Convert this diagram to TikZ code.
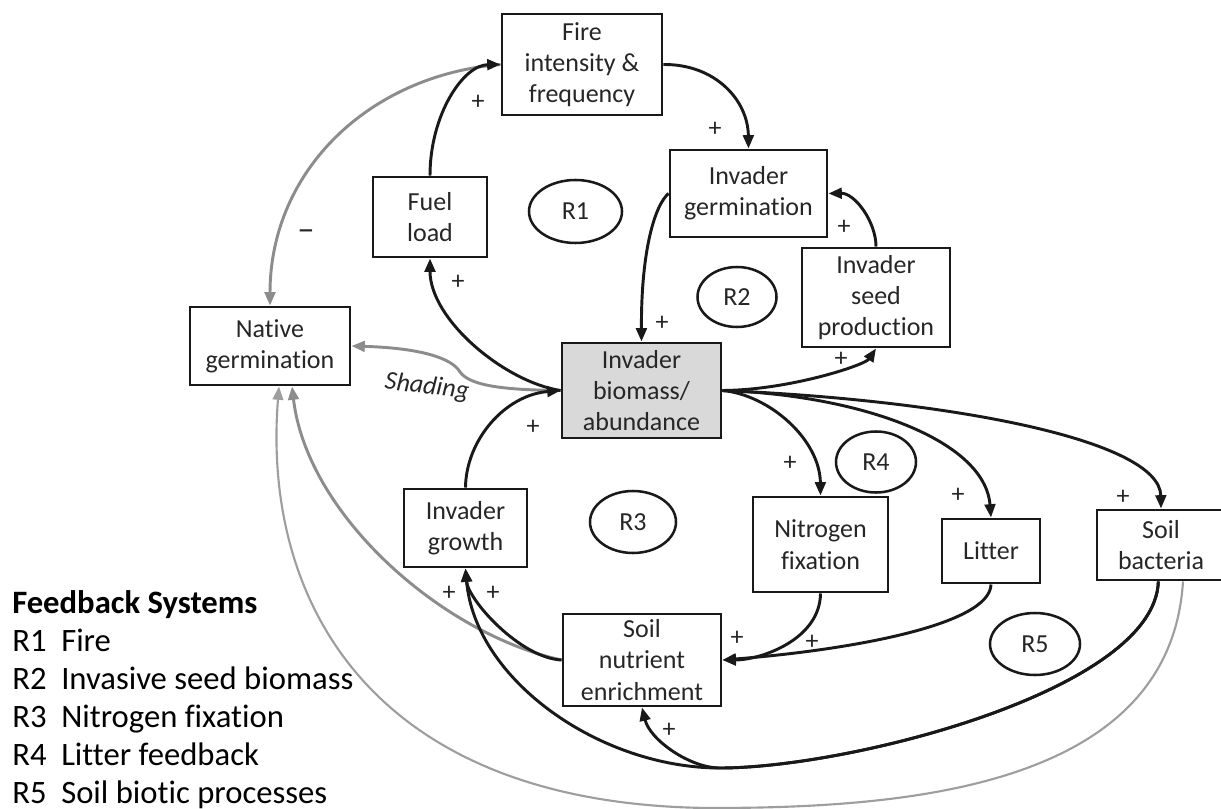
\documentclass[tikz,border=0pt]{standalone}
\usepackage{fontspec}
\setmainfont{Carlito}[Ligatures={TeX,NoCommon}]
\usetikzlibrary{arrows.meta,shapes.geometric}

\begin{document}
\begin{tikzpicture}[x=0.75pt,y=0.75pt,
    box/.style={draw=black!90, line width=2.2pt, align=center, inner sep=0pt, text=black!85, font=\fontsize{19.5}{23.5}\selectfont},
    loopmark/.style={draw=black!90, ellipse, line width=1.9pt, inner sep=0pt, text=black!85, font=\fontsize{19.5}{23.5}\selectfont},
    link/.style={line width=2.2pt, draw=black!90, -{Triangle[length=10pt,width=8pt]}},
    dimlink/.style={line width=2.2pt, draw=black!45, -{Triangle[length=10pt,width=8pt]}},
    sign/.style={text=black!85, font=\fontsize{19.5}{23.5}\selectfont, inner sep=0pt},
    legend/.style={anchor=base west, inner sep=0pt, text=black, font=\fontsize{24.5}{28.5}\selectfont}]
    \useasboundingbox (0,0) rectangle (1221,-809);

    \node[box, minimum width=120pt, minimum height=75.75pt] (fire) at (582,-64.5) {Fire\\intensity \&\\frequency};
    \node[box, minimum width=85.5pt, minimum height=60pt] (fuel) at (430,-217) {Fuel\\load};
    \node[box, minimum width=117.75pt, minimum height=65.25pt] (igerm) at (748.5,-193.5) {Invader\\germination};
    \node[box, minimum width=111pt, minimum height=74.25pt] (seed) at (876,-297.5) {Invader\\seed\\production};
    \node[box, minimum width=120pt, minimum height=58.5pt] (native) at (270,-346) {Native\\germination};
    \node[box, fill=black!15, minimum width=119.25pt, minimum height=71.25pt] (biomass) at (641.5,-390.5) {Invader\\biomass/\\abundance};
    \node[box, minimum width=92.25pt, minimum height=58.5pt] (growth) at (465.5,-528) {Invader\\growth};
    \node[box, minimum width=101.25pt, minimum height=71.25pt] (nitro) at (820.5,-544.5) {Nitrogen\\fixation};
    \node[box, minimum width=73.5pt, minimum height=48pt] (litter) at (991,-551) {Litter};
    \node[box, minimum width=96pt, minimum height=52.5pt] (bacteria) at (1161,-545) {Soil\\bacteria};
    \node[box, minimum width=118.5pt, minimum height=69pt] (soil) at (642,-660) {Soil\\nutrient\\enrichment};

    \node[loopmark, minimum width=69.75pt, minimum height=47.25pt] (r1) at (575.5,-211.5) {R1};
    \node[loopmark, minimum width=59.25pt, minimum height=45pt] (r2) at (737,-297) {R2};
    \node[loopmark, minimum width=64.5pt, minimum height=46.5pt] (r3) at (633,-522) {R3};
    \node[loopmark, minimum width=60pt, minimum height=45.75pt] (r4) at (876,-462) {R4};
    \node[loopmark, minimum width=67.5pt, minimum height=46.5pt] (r5) at (1035,-644) {R5};

    \draw[dimlink] (fire.west) .. controls (370,-75) and (270,-170) .. (native.north);
    \draw[dimlink] (biomass.west) .. controls (505,-390) and (470,-386) .. (460,-372)
        .. controls (452,-358) and (420,-348) .. (native.east);
    \draw[dimlink] (soil.west) .. controls (442,-634) and (307,-515) .. ([xshift=16.5pt]native.south);
    \draw[dimlink, line width=1.6pt, draw=black!38] ([xshift=16.5pt]bacteria.south) .. controls (1170,-790) and (900,-808) .. (710,-808)
        .. controls (370,-805) and (262,-600) .. ([xshift=6.75pt]native.south);

    \draw[link] (fuel.north) .. controls (430,-115) and (463,-65) .. (fire.west);
    \draw[link] (fire.east) .. controls (715,-64) and (748,-100) .. (igerm.north);
    \draw[link] (igerm.west) .. controls (655,-205) and (641,-250) .. (biomass.north);
    \draw[link] (seed.north) .. controls (876,-222) and (855,-193) .. (igerm.east);
    \draw[link] (biomass.east) .. controls (790,-390) and (865,-365) .. (seed.south);
    \draw[link] (biomass.west) .. controls (505,-382) and (430,-320) .. (fuel.south);
    \draw[link] (growth.north) .. controls (466,-440) and (505,-395) .. (biomass.west);
    \draw[link] (biomass.east) .. controls (770,-395) and (820,-440) .. (nitro.north);
    \draw[link] (biomass.east) .. controls (860,-395) and (985,-440) .. (litter.north);
    \draw[link] (biomass.east) .. controls (950,-400) and (1160,-440) .. (bacteria.north);
    \draw[link] (nitro.south) .. controls (820,-640) and (760,-660) .. (soil.east);
    \draw[link] (litter.south) .. controls (990,-625) and (850,-650) .. (soil.east);
    \draw[link] (soil.west) .. controls (520,-658) and (468,-600) .. (growth.south);
    \draw[link] ([xshift=-2pt]bacteria.south) .. controls (1155,-690) and (850,-768) .. (720,-768)
        .. controls (600,-768) and (475,-680) .. (growth.south);
    \draw[link] ([xshift=-2pt]bacteria.south) .. controls (1155,-690) and (850,-768) .. (720,-768)
        .. controls (690,-768) and (650,-740) .. (soil.south);

    \node[sign] (s1) at (478,-102) {+};
    \node[sign] (s2) at (715,-129) {+};
    \node[sign] (s3) at (458,-282) {+};
    \node[sign] (s4) at (662,-323) {+};
    \node[sign] (s5) at (844,-227) {+};
    \node[sign] (s6) at (841,-359) {+};
    \node[sign] (s7) at (533,-427) {+};
    \node[sign] (s8) at (790,-463) {+};
    \node[sign] (s9) at (958,-495) {+};
    \node[sign] (s10) at (1123,-497) {+};
    \node[sign] (s11) at (449,-593) {+};
    \node[sign] (s12) at (493,-593) {+};
    \node[sign] (s13) at (737,-638) {+};
    \node[sign] (s14) at (812,-642) {+};
    \node[sign] (s15) at (669,-730) {+};
    \node[sign, font=\fontsize{26}{30}\selectfont] (minus) at (306,-235) {\textendash};
    \node[sign, rotate=-7] (shade) at (427,-387) {\itshape Shading};

    \node[legend] (lhead) at (12,-613) {\bfseries Feedback Systems};
    \node[legend] (l1) at (12,-651) {R1};
    \node[legend] (l1t) at (61,-651) {Fire};
    \node[legend] (l2) at (12,-689) {R2};
    \node[legend] (l2t) at (61,-689) {Invasive seed biomass};
    \node[legend] (l3) at (12,-727) {R3};
    \node[legend] (l3t) at (61,-727) {Nitrogen fixation};
    \node[legend] (l4) at (12,-765) {R4};
    \node[legend] (l4t) at (61,-765) {Litter feedback};
    \node[legend] (l5) at (12,-803) {R5};
    \node[legend] (l5t) at (61,-803) {Soil biotic processes};

\end{tikzpicture}
\end{document}
